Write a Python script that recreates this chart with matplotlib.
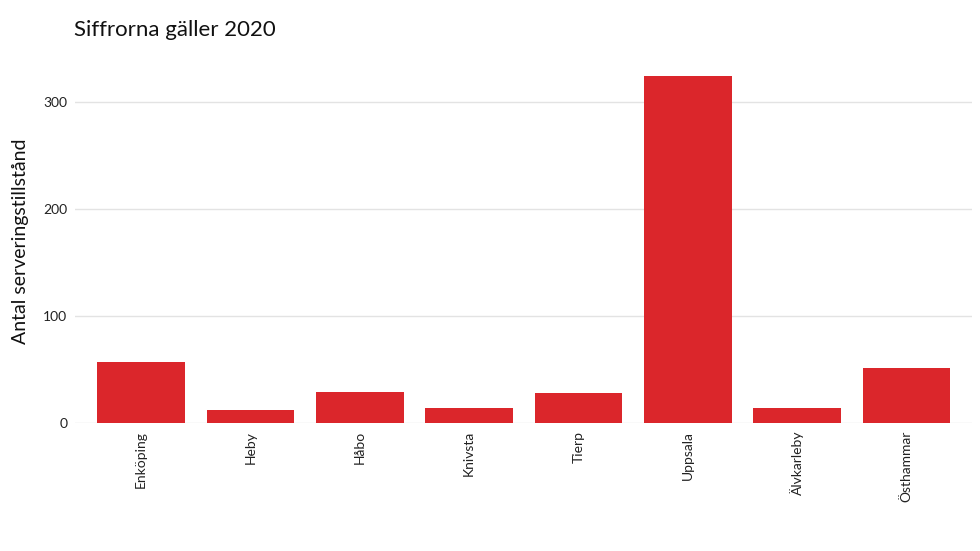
import matplotlib
matplotlib.use("Agg")
import matplotlib.pyplot as plt

categories = ["Enköping", "Heby", "Håbo", "Knivsta", "Tierp", "Uppsala", "Älvkarleby", "Östhammar"]
values = [57, 12, 29, 14, 28, 324, 14, 51]
yticks = [0, 100, 200, 300]

plt.rcParams["font.family"] = "Lato"
fig = plt.figure(figsize=(9.8, 5.51), dpi=100)
ax = fig.add_axes([0.077, 0.233, 0.915, 0.66])
x = range(len(categories))
ax.bar(x, values, width=0.8, color="#db262b", zorder=2)
ax.set_xlim(-0.6, len(categories) - 0.4)
ax.set_ylim(0, 340)
ax.set_yticks(yticks)
ax.set_yticklabels([str(t) for t in yticks], fontsize=10, color="#222222")
ax.set_xticks(list(x))
ax.set_xticklabels(categories, rotation=90, fontsize=10, color="#222222")
ax.grid(axis="y", color="#e3e3e3", linewidth=1, zorder=0)
ax.tick_params(length=0, pad=6)
for s in ax.spines.values():
    s.set_visible(False)
ax.set_ylabel("Antal serveringstillstånd", fontsize=14, color="#111111", labelpad=10)
fig.text(0.075, 0.945, "Siffrorna gäller 2020", fontsize=16, color="#111111", va="center")
fig.savefig("out.png", dpi=100)
